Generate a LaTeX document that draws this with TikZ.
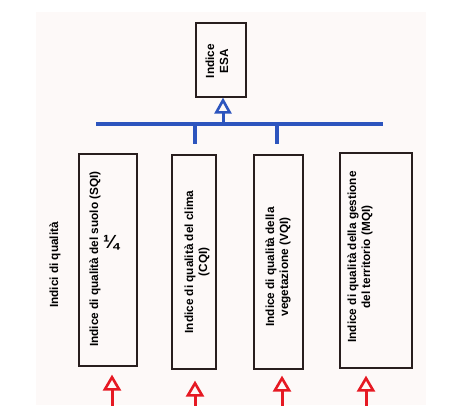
\documentclass[tikz,border=0pt]{standalone}
\usepackage{fontspec}
\setmainfont{Liberation Sans}
\usetikzlibrary{arrows.meta}
\definecolor{busblue}{RGB}{45,85,190}
\definecolor{arrred}{RGB}{230,25,35}
\definecolor{boxline}{RGB}{40,30,30}
\definecolor{bgpink}{RGB}{253,249,248}
\tikzset{
  idxbox/.style={draw=boxline,line width=1.2pt,inner sep=0pt},
  vtext/.style={rotate=90,font=\bfseries\fontsize{11.8}{14}\selectfont,align=center,inner sep=0pt},
  busline/.style={busblue,line width=4pt},
  bluearrow/.style={busblue,line width=3pt,-{Triangle[open,length=16pt,width=17pt,line width=2.6pt]}},
  redarrow/.style={arrred,line width=3pt,-{Triangle[open,length=16pt,width=18pt,line width=2.6pt]}},
}
\begin{document}
\begin{tikzpicture}[x=1pt,y=-1pt]
\useasboundingbox (0,0) rectangle (468,405);
\fill[bgpink] (36,12) rectangle (426,405);
% top box
\node[idxbox,minimum width=50pt,minimum height=74pt] (esa) at (221,60) {};
\node[vtext] (esat) at (217,61) {Indice\\ESA};
% index boxes
\node[idxbox,minimum width=58pt,minimum height=212pt] (b1) at (108,260) {};
\node[idxbox,minimum width=44pt,minimum height=214pt] (b2) at (194,262) {};
\node[idxbox,minimum width=49pt,minimum height=214pt] (b3) at (278.5,262) {};
\node[idxbox,minimum width=72pt,minimum height=215pt] (b4) at (376,260.5) {};
\node[vtext] (t1) at (95,259) {Indice di qualità del suolo (SQI)};
\node[font=\bfseries\fontsize{19}{19}\selectfont,inner sep=0pt] (q) at (111,243) {¼};
\node[vtext] (t2) at (197,262) {Indice di qualità del clima\\(CQI)};
\node[vtext] (t3) at (278,267) {Indice di qualità della\\vegetazione (VQI)};
\node[vtext] (t4) at (360,257) {Indice di qualità della gestione\\del territorio (MQI)};
\node[vtext] (lab) at (55,265) {Indici di qualità};
% blue bus
\coordinate (busL) at (96,124);
\coordinate (busR) at (383,124);
\coordinate (busM) at (223,124);
\draw[busline] (busL) -- (busR);
\draw[bluearrow] (busM) -- (busM |- esa.south);
\coordinate (s2) at (195,124);
\coordinate (s3) at (277,124);
\draw[busline] (s2) -- ++(0,20);
\draw[busline] (s3) -- ++(0,20);
% red arrows
\coordinate (r1) at (112,410);
\coordinate (r2) at (195,410);
\coordinate (r3) at (282,410);
\coordinate (r4) at (366,410);
\draw[redarrow,shorten >=8pt] (r1) -- (r1 |- b1.south);
\draw[redarrow,shorten >=11pt] (r2) -- (r2 |- b2.south);
\draw[redarrow,shorten >=6pt] (r3) -- (r3 |- b3.south);
\draw[redarrow,shorten >=7pt] (r4) -- (r4 |- b4.south);
\end{tikzpicture}
\end{document}
